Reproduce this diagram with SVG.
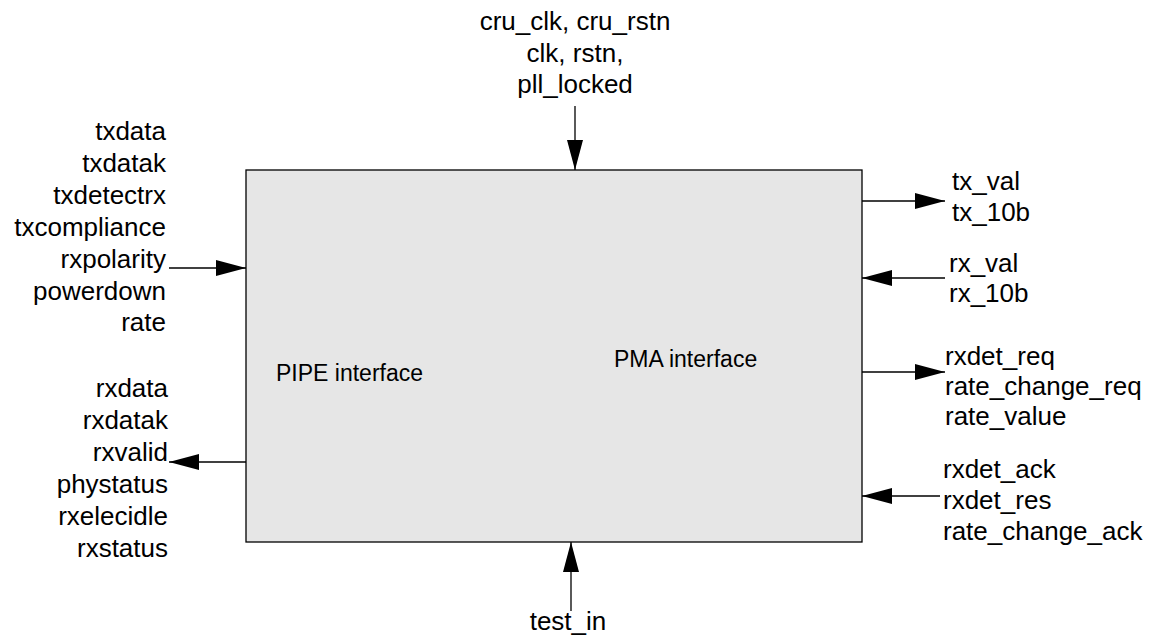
<svg xmlns="http://www.w3.org/2000/svg" width="1157" height="636" viewBox="0 0 1157 636">
<style>
  text { font-family: "Liberation Sans", Arial, sans-serif; font-size: 26px; fill: #000; }
  .r { text-anchor: end; }
  .c { text-anchor: middle; }
  .big { font-size: 23px; }
  .conn line { stroke: #000; stroke-width: 1.3; marker-end: url(#arr); }
</style>
<defs>
  <marker id="arr" markerUnits="userSpaceOnUse" markerWidth="30" markerHeight="16" refX="30" refY="8" orient="auto">
    <path d="M0,0 L30,8 L0,16 z" fill="#000"/>
  </marker>
</defs>
<rect width="1157" height="636" fill="#fff"/>
<g id="block">
  <rect x="246" y="170" width="616" height="372" fill="#e6e6e6" stroke="#000" stroke-width="1.3"/>
  <text class="big" x="276" y="381">PIPE interface</text>
  <text class="big" x="614" y="367">PMA interface</text>
</g>
<g id="top-signals">
  <text class="c" x="575" y="30">cru_clk, cru_rstn</text>
  <text class="c" x="575" y="62">clk, rstn,</text>
  <text class="c" x="575" y="93">pll_locked</text>
</g>
<g id="pipe-in">
  <text class="r" x="166" y="140">txdata</text>
  <text class="r" x="166" y="172">txdatak</text>
  <text class="r" x="166" y="204">txdetectrx</text>
  <text class="r" x="166" y="236">txcompliance</text>
  <text class="r" x="166" y="268">rxpolarity</text>
  <text class="r" x="166" y="300">powerdown</text>
  <text class="r" x="166" y="331">rate</text>
</g>
<g id="pipe-out">
  <text class="r" x="168" y="397">rxdata</text>
  <text class="r" x="168" y="429">rxdatak</text>
  <text class="r" x="168" y="461">rxvalid</text>
  <text class="r" x="168" y="493">phystatus</text>
  <text class="r" x="168" y="525">rxelecidle</text>
  <text class="r" x="168" y="557">rxstatus</text>
</g>
<g id="pma-tx">
  <text x="952" y="190">tx_val</text>
  <text x="952" y="221">tx_10b</text>
</g>
<g id="pma-rx">
  <text x="949" y="272">rx_val</text>
  <text x="949" y="302">rx_10b</text>
</g>
<g id="pma-req">
  <text x="945" y="365">rxdet_req</text>
  <text x="945" y="395">rate_change_req</text>
  <text x="945" y="425">rate_value</text>
</g>
<g id="pma-ack">
  <text x="943" y="478">rxdet_ack</text>
  <text x="943" y="509">rxdet_res</text>
  <text x="943" y="540">rate_change_ack</text>
</g>
<g id="test">
  <text class="c" x="568" y="630">test_in</text>
</g>
<g class="conn" id="connectors">
  <line x1="575" y1="106" x2="575" y2="170"/>
  <line x1="169" y1="268" x2="246" y2="268"/>
  <line x1="246" y1="462" x2="169" y2="462"/>
  <line x1="862" y1="201" x2="945" y2="201"/>
  <line x1="945" y1="278" x2="862" y2="278"/>
  <line x1="862" y1="372" x2="945" y2="372"/>
  <line x1="940" y1="496" x2="862" y2="496"/>
  <line x1="571" y1="611" x2="571" y2="542"/>
</g>
</svg>
